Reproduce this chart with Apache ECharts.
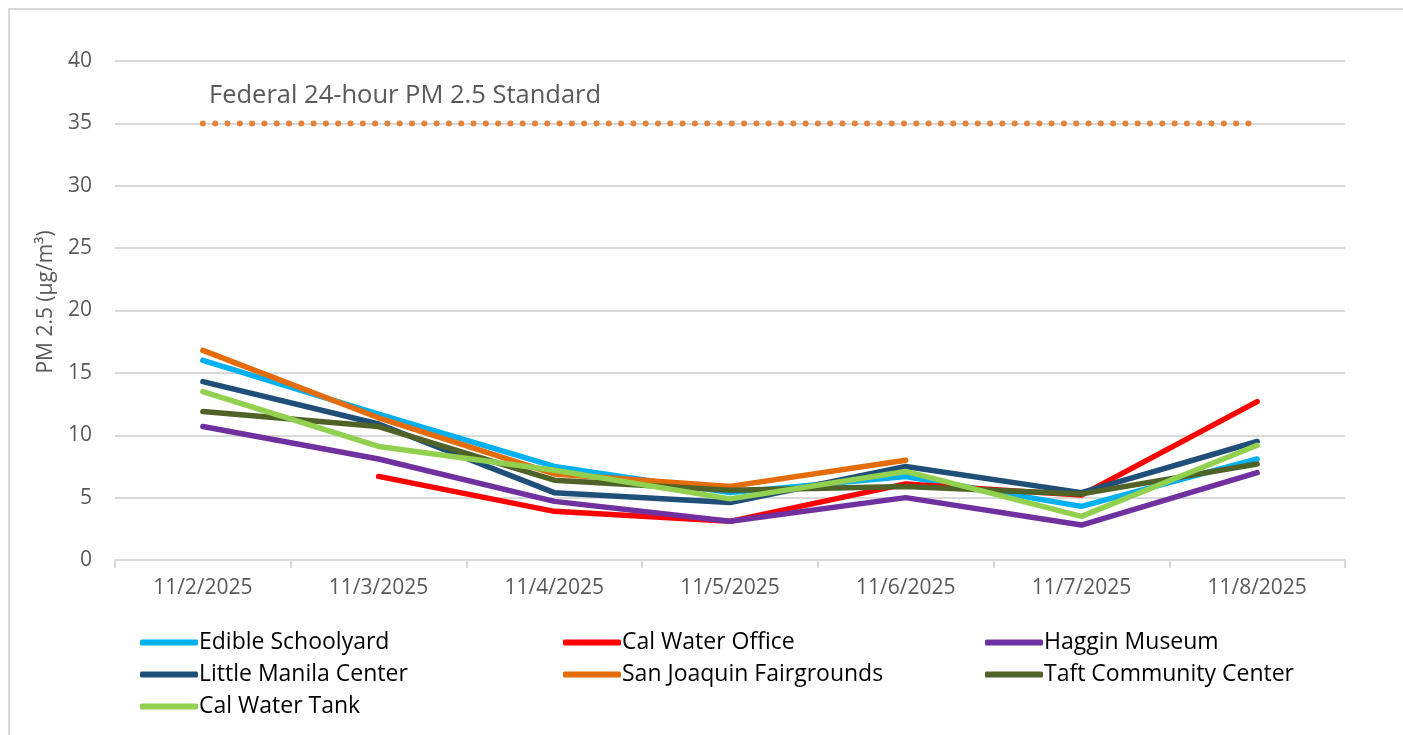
<!DOCTYPE html>
<html>
<head>
<meta charset="utf-8">
<script src="https://cdn.jsdelivr.net/npm/echarts@6/dist/echarts.min.js"></script>
<style>
  html, body { margin: 0; padding: 0; background: #fff; overflow: hidden; }
  #chart { width: 1403px; height: 735px; }
</style>
</head>
<body>
<div id="chart"></div>
<script>
// dates on the x axis
const days = ['11/2/2025', '11/3/2025', '11/4/2025', '11/5/2025', '11/6/2025', '11/7/2025', '11/8/2025'];
const yTicks = [0, 5, 10, 15, 20, 25, 30, 35, 40];

// PM 2.5 readings per site (ug/m3)
const edibleSchoolyard = [16.0, 11.7, 7.5, 5.4, 6.7, 4.3, 8.1];
const calWaterOffice = [null, 6.7, 3.9, 3.1, 6.1, 5.2, 12.7];
const hagginMuseum = [10.7, 8.1, 4.7, 3.1, 5.0, 2.8, 7.0];
const littleManila = [14.3, 10.9, 5.4, 4.6, 7.5, 5.4, 9.5];
const sanJoaquin = [16.8, 11.4, 6.9, 5.9, 8.0, null, null];
const taftCenter = [11.9, 10.7, 6.4, 5.6, 5.9, 5.3, 7.7];
const calWaterTank = [13.5, 9.1, 7.2, 4.9, 7.1, 3.5, 9.2];
const federalStandard = [35, 35, 35, 35, 35, 35, 35];

const chart = echarts.init(document.getElementById('chart'));

const siteLine = (name, data, color) => ({
    name: name,
    type: 'line',
    data: data,
    symbol: 'none',
    connectNulls: false,
    lineStyle: {width: 5.5, color: color, cap: 'round', join: 'round'},
    itemStyle: {color: color},
    emphasis: {disabled: true}
});

const legendBase = {
    orient: 'vertical',
    top: 626,
    itemGap: 9,
    itemWidth: 58,
    itemHeight: 6,
    icon: 'roundRect',
    textStyle: {fontFamily: 'Open Sans', fontSize: 23, color: '#000', padding: [0, 0, 0, -4]}
};

const option = {
    animation: false,
    backgroundColor: '#fff',
    grid: {left: 115, right: 58, top: 61, bottom: 175},
    graphic: [
        {
            type: 'rect',
            shape: {x: 9, y: 9, width: 2000, height: 1200},
            style: {fill: 'none', stroke: '#d9d9d9', lineWidth: 2},
            silent: true
        },
        {
            type: 'text',
            left: 209,
            top: 83,
            style: {text: 'Federal 24-hour PM 2.5 Standard', fontFamily: 'Open Sans', fontSize: 25.5, fill: '#595959'}
        },
        {
            type: 'text',
            x: 46,
            y: 302,
            rotation: Math.PI / 2,
            style: {
                text: 'PM 2.5 (µg/m³)', fontFamily: 'Open Sans', fontSize: 21, fill: '#595959',
                align: 'center', verticalAlign: 'middle'
            }
        }
    ],
    legend: [
        Object.assign({}, legendBase, {left: 135, data: ['Edible Schoolyard', 'Little Manila Center', 'Cal Water Tank']}),
        Object.assign({}, legendBase, {left: 558, data: ['Cal Water Office', 'San Joaquin Fairgrounds']}),
        Object.assign({}, legendBase, {left: 980, data: ['Haggin Museum', 'Taft Community Center']})
    ],
    xAxis: {
        type: 'category',
        data: days,
        boundaryGap: true,
        axisLine: {lineStyle: {color: '#d9d9d9', width: 2}},
        axisTick: {show: true, length: 8, lineStyle: {color: '#d9d9d9', width: 2}},
        axisLabel: {fontFamily: 'Open Sans', fontSize: 21, color: '#595959', margin: 18}
    },
    yAxis: {
        type: 'value',
        min: yTicks[0],
        max: yTicks[yTicks.length - 1],
        interval: 5,
        axisLine: {show: false},
        axisTick: {show: false},
        axisLabel: {fontFamily: 'Open Sans', fontSize: 21, color: '#595959', margin: 23},
        splitLine: {lineStyle: {color: '#d9d9d9', width: 2}}
    },
    series: [
        siteLine('Edible Schoolyard', edibleSchoolyard, '#00b0f0'),
        siteLine('Cal Water Office', calWaterOffice, '#ff0000'),
        siteLine('Haggin Museum', hagginMuseum, '#7030a0'),
        siteLine('Little Manila Center', littleManila, '#1f4e79'),
        siteLine('San Joaquin Fairgrounds', sanJoaquin, '#e46c0a'),
        siteLine('Taft Community Center', taftCenter, '#4f6228'),
        siteLine('Cal Water Tank', calWaterTank, '#92d050'),
        {
            name: 'Federal 24-hour PM 2.5 Standard',
            type: 'line',
            data: federalStandard,
            symbol: 'none',
            lineStyle: {width: 6, color: '#e3843c', type: [0.1, 12.2], cap: 'round'},
            emphasis: {disabled: true}
        }
    ]
};

chart.setOption(option);
</script>
</body>
</html>
